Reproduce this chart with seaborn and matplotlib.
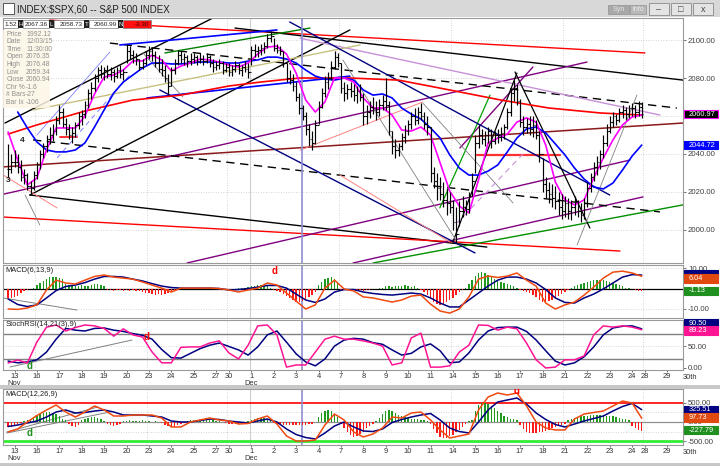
import numpy as np
import matplotlib.pyplot as plt
from matplotlib.patches import Rectangle
import seaborn as sns

sns.set_theme(style="white")
plt.rcParams['font.family'] = ['Liberation Sans', 'DejaVu Sans']

W, H = 720, 466

# ---------------- data ----------------
# hourly bars, index 1..199 : last two bars of Nov 12, then Nov 13 .. Dec 24 (half day)
highs = [2045, 2040,
         2042, 2040, 2037, 2032, 2030, 2026, 2031,   # Nov 13
         2036, 2042, 2046, 2050, 2054, 2056, 2060,   # 16
         2066, 2064, 2059, 2056, 2054, 2057, 2062,   # 17
         2063, 2068, 2074, 2078, 2082, 2086, 2087,   # 18
         2086, 2087, 2086, 2085, 2086, 2087, 2085,   # 19
         2098, 2097, 2095, 2093, 2090, 2090, 2094,   # 20
         2097, 2096, 2094, 2092, 2090, 2087, 2082,   # 23
         2086, 2090, 2095, 2094, 2093, 2092, 2093,   # 24
         2093, 2092, 2093, 2092, 2093, 2092, 2090,   # 25
         2089, 2090, 2089, 2088,                     # 27
         2088, 2087, 2089, 2088, 2087, 2089, 2088,   # 30
         2097, 2098, 2097, 2098, 2099, 2103, 2105,   # Dec 1
         2101, 2098, 2097, 2094, 2088, 2084, 2082,   # 2
         2078, 2072, 2066, 2062, 2056, 2052, 2058,   # 3
         2068, 2075, 2081, 2083, 2089, 2094, 2093,   # 4
         2088, 2078, 2077, 2078, 2077, 2076, 2077,   # 7
         2072, 2066, 2068, 2070, 2068, 2069, 2071,   # 8
         2080, 2068, 2052, 2048, 2046, 2051, 2055,   # 9
         2058, 2062, 2064, 2065, 2067, 2062, 2060,   # 10
         2054, 2033, 2030, 2028, 2025, 2022, 2020,   # 11
         2016, 2012, 2015, 2018, 2016, 2020, 2030,   # 14
         2050, 2055, 2053, 2052, 2054, 2053, 2052,   # 15
         2053, 2054, 2056, 2064, 2074, 2079, 2077,   # 16
         2069, 2060, 2059, 2060, 2060, 2058, 2052,   # 17
         2038, 2028, 2025, 2024, 2023, 2020, 2019,   # 18
         2018, 2017, 2016, 2018, 2016, 2014, 2017,   # 21
         2025, 2030, 2036, 2039, 2042, 2050, 2056,   # 22
         2060, 2062, 2061, 2064, 2066, 2065, 2066,   # 23
         2067, 2066, 2068, 2067.36]                  # 24
lows = [2028, 2030,
        2033, 2030, 2026, 2024, 2021, 2019, 2021,
        2027, 2032, 2038, 2041, 2045, 2047, 2050,
        2056, 2054, 2050, 2048, 2046, 2049, 2053,
        2055, 2059, 2064, 2069, 2073, 2078, 2080,
        2079, 2080, 2079, 2078, 2080, 2080, 2079,
        2088, 2090, 2088, 2087, 2084, 2085, 2087,
        2090, 2089, 2086, 2083, 2081, 2078, 2071,
        2076, 2082, 2087, 2088, 2087, 2086, 2087,
        2088, 2087, 2088, 2087, 2088, 2086, 2083,
        2084, 2085, 2082, 2083,
        2081, 2081, 2083, 2082, 2081, 2083, 2080,
        2087, 2091, 2091, 2092, 2093, 2096, 2099,
        2094, 2093, 2092, 2086, 2078, 2077, 2073,
        2068, 2061, 2058, 2050, 2044, 2042, 2045,
        2056, 2064, 2070, 2074, 2079, 2085, 2086,
        2072, 2068, 2069, 2070, 2068, 2067, 2068,
        2055, 2056, 2059, 2061, 2058, 2060, 2063,
        2063, 2050, 2040, 2038, 2039, 2042, 2046,
        2050, 2053, 2055, 2056, 2058, 2053, 2050,
        2025, 2022, 2016, 2016, 2012, 2008, 2009,
        2000, 1993, 2002, 2007, 2008, 2009, 2018,
        2030, 2043, 2045, 2044, 2046, 2043, 2045,
        2046, 2047, 2048, 2053, 2060, 2068, 2066,
        2054, 2050, 2051, 2050, 2049, 2048, 2036,
        2020, 2017, 2014, 2012, 2011, 2008, 2006,
        2007, 2006, 2005, 2008, 2007, 2004, 2006,
        2012, 2020, 2026, 2029, 2032, 2038, 2044,
        2051, 2054, 2055, 2057, 2059, 2058, 2059,
        2060, 2059, 2060, 2058.73]
closes = [2032, 2036,
          2036, 2033, 2028, 2029, 2023, 2022, 2029,
          2034, 2040, 2044, 2048, 2050, 2052, 2058,
          2062, 2056, 2053, 2050, 2051, 2055, 2060,
          2061, 2066, 2072, 2075, 2080, 2084, 2082,
          2084, 2082, 2083, 2081, 2084, 2082, 2083,
          2094, 2092, 2091, 2090, 2086, 2088, 2092,
          2094, 2092, 2088, 2085, 2084, 2080, 2076,
          2084, 2088, 2092, 2090, 2091, 2089, 2090,
          2091, 2089, 2090, 2089, 2091, 2088, 2086,
          2087, 2088, 2084, 2086,
          2083, 2085, 2087, 2084, 2086, 2085, 2083,
          2095, 2094, 2095, 2096, 2097, 2101, 2102,
          2096, 2095, 2094, 2088, 2080, 2079, 2076,
          2070, 2064, 2060, 2053, 2048, 2046, 2055,
          2065, 2072, 2078, 2080, 2086, 2091, 2088,
          2075, 2072, 2074, 2073, 2071, 2073, 2070,
          2060, 2062, 2065, 2064, 2062, 2066, 2068,
          2066, 2052, 2044, 2042, 2044, 2049, 2052,
          2056, 2060, 2058, 2062, 2060, 2056, 2054,
          2030, 2026, 2022, 2019, 2016, 2014, 2012,
          2004, 1998, 2010, 2012, 2011, 2018, 2026,
          2046, 2050, 2048, 2050, 2052, 2047, 2050,
          2049, 2051, 2054, 2062, 2072, 2075, 2068,
          2057, 2054, 2056, 2053, 2055, 2050, 2040,
          2024, 2021, 2019, 2017, 2015, 2012, 2010,
          2014, 2010, 2012, 2015, 2010, 2008, 2014,
          2022, 2028, 2033, 2036, 2040, 2046, 2052,
          2057, 2060, 2058, 2062, 2063, 2061, 2064,
          2064, 2062, 2065, 2060.99]

# indicator lines read every third bar (bar 1, 4, 7, ... 199)
ma_fast = [2051.6, 2036.8, 2023.7, 2027.4, 2042.1, 2053.7, 2053.7, 2053.7, 2060.0, 2071.6,
           2080.5, 2081.6, 2084.2, 2089.0, 2089.0, 2092.0, 2089.5, 2083.7, 2086.3, 2087.9,
           2090.0, 2089.5, 2088.4, 2086.8, 2085.8, 2087.9, 2092.6, 2096.3, 2096.8, 2092.6,
           2082.6, 2068.4, 2062.1, 2067.4, 2080.0, 2080.0, 2077.9, 2069.5, 2064.2, 2064.2,
           2060.5, 2052.6, 2052.1, 2054.2, 2050.0, 2035.3, 2020.5, 2012.6, 2009.0, 2026.3,
           2045.8, 2048.4, 2050.5, 2056.8, 2059.0, 2056.8, 2044.7, 2025.3, 2015.8, 2013.2,
           2015.8, 2027.4, 2037.9, 2047.4, 2055.3, 2059.5, 2060.5]
ma_slow = [np.nan, 2062.1, 2053.7, 2046.3, 2042.1, 2041.1, 2041.1, 2042.1, 2045.8, 2054.2,
           2063.2, 2072.1, 2077.9, 2081.6, 2085.3, 2087.9, 2087.9, 2087.4, 2087.4, 2087.9,
           2088.4, 2088.4, 2088.4, 2087.9, 2087.9, 2088.9, 2089.5, 2091.0, 2091.0, 2090.0,
           2087.9, 2084.2, 2081.0, 2079.5, 2078.9, 2080.0, 2078.9, 2073.7, 2071.0, 2071.6,
           2069.5, 2064.2, 2061.0, 2058.4, 2053.7, 2048.4, 2039.5, 2032.6, 2028.9, 2028.9,
           2031.0, 2034.2, 2041.1, 2048.4, 2053.2, 2054.2, 2051.1, 2045.3, 2039.5, 2032.6,
           2026.8, 2022.6, 2021.6, 2024.7, 2031.6, 2038.9, 2044.7]
macd6 = [-10.0, -10.2, -9.5, -8.0, -0.7, 4.1, 2.7, 2.2, 4.1, 5.9,
         6.6, 5.6, 5.1, 4.6, 3.2, 1.7, 0.2, -1.7, 0.2, 0.2,
         0.2, 0.2, 0.0, -0.7, -1.7, -0.7, 0.2, 2.7, 1.7, -2.2,
         -6.1, -10.0, -8.0, 0.2, 4.1, -0.2, -1.2, -4.1, -4.6, -5.6,
         -6.6, -5.6, -3.7, -3.2, -7.6, -11.0, -12.0, -10.0, -4.1, 4.6,
         6.1, 5.4, 6.1, 7.6, 4.1, 1.2, -7.1, -10.0, -8.0, -6.6,
         -3.2, 0.7, 5.1, 8.0, 8.5, 7.6, 6.0]
signal6 = [-5.1, -7.8, -8.8, -8.0, -4.6, -1.0, 1.0, 1.7, 2.9, 4.6,
           5.9, 5.9, 5.6, 4.6, 3.7, 2.4, 1.2, 0.5, 0.2, 0.2,
           0.2, 0.2, 0.0, -0.7, -0.5, 0.0, 0.7, 1.5, 1.5, 0.2,
           -2.7, -5.6, -6.8, -5.1, -1.7, -0.5, -0.5, -1.7, -2.4, -2.9,
           -3.2, -2.7, -2.2, -2.7, -4.6, -7.1, -9.0, -9.0, -5.6, -2.2,
           1.2, 4.1, 5.6, 5.6, 4.6, 2.7, -0.5, -4.6, -6.8, -7.1,
           -4.6, -2.7, -0.2, 2.7, 5.6, 6.8, 6.6]
stoch_k = [11.6, 18.6, 11.6, 60.5, 95, 100, 86, 94, 100, 98,
           92, 74, 91, 77, 72, 37, 12, 12, 48, 49,
           49, 58, 63, 35, 21, 53, 98, 100, 77, 2,
           7, 7, 37, 67, 74, 67, 67, 63, 58, 51,
           7, 12, 70, 81, 2, 2, 5, 37, 53, 100,
           99, 88, 95, 91, 58, 19, 0, 2, 19, 19,
           28, 77, 98, 95, 98, 95, 89]
stoch_d = [16, 12, 14, 19, 37, 67, 92, 88, 86, 92,
           93, 88, 85, 80, 76, 67, 43, 24, 23, 34,
           45, 53, 58, 50, 42, 30, 49, 77, 86, 60,
           33, 14, 5, 21, 51, 65, 69, 67, 59, 55,
           42, 30, 34, 49, 56, 40, 12, 14, 35, 65,
           86, 94, 95, 95, 85, 65, 40, 16, 7, 12,
           26, 49, 77, 93, 97, 98, 91]
macd12 = [-263, -184, 0, 171, 316, 447, 263, 131, 263, 421,
          316, 158, 158, 184, 184, 184, 105, -131, -131, 0,
          53, 105, 53, 26, -53, -39, 79, 158, -53, -368,
          -500, -500, -473, -79, 210, 53, -263, -394, -316, -158,
          131, 105, 237, 263, 53, -210, -421, -368, -316, 316,
          658, 763, 710, 763, 421, 0, -158, -210, -210, 79,
          210, 250, 289, 421, 552, 500, 98]
signal12 = [-118, -79, -26, 26, 131, 263, 316, 237, 250, 289,
            316, 263, 184, 184, 184, 158, 131, 26, 0, 0,
            39, 79, 66, 26, 0, -26, 26, 79, 0, -184,
            -329, -408, -447, -289, -105, 0, -131, -237, -250, -184,
            -13, 66, 131, 184, 224, 53, -158, -250, -289, 0,
            316, 526, 579, 631, 473, 237, 66, -66, -131, -53,
            26, 92, 158, 289, 408, 487, 325]

# long red average, read at a few bars
ma_long_bar = [1, 10, 25, 40, 55, 70, 80, 92, 108, 123, 139, 155, 170, 186, 199]
ma_long = [2050.5, 2055.3, 2062.6, 2068.4, 2071.0, 2075.8, 2077.9, 2080.0, 2080.0,
           2078.9, 2073.7, 2068.4, 2064.2, 2061.6, 2060.5]

# histograms, one value per bar
hist6 = [-4.5, -4.5, -4, -3.5, -2, -1, -0.5, 0,
         0.5, 1.5, 2.5, 3.5, 4.5, 5.5, 5.5, 5.5, 5, 4.5,
         2, 1.5, 1.5, 1, 1, 1.5, 1, 1, 1.5, 2, 2, 1.5, 1,
         -0.5, -0.5, -1, -0.5, -0.5, -1, -0.5, -1, -0.5, -1, -1,
         -1.5, -2, -2, -2.5, -3, -2.5, -3, -2.5, -2, -1.5, -1,
         0.3, 0.3, 0, -0.3, 0.3, 0.3, 0, 0.3, -0.3, 0, 0.3, 0, -0.3, -0.5, -0.5, -0.3, 0, -0.3, -0.5, 0.3, 0.5, 0.5,
         0.8, 1, 1.2, 1.5, 1.5, 1.2, 1, 0.5,
         -0.5, -1, -1.5, -2.5, -3.5, -4.5, -5.5, -6.5, -6.5, -6, -5, -4, -3, -1.5,
         1.5, 3, 4.5, 5, 5.5, 4.5, 3,
         -0.5, -0.5, -0.3, -0.5, -0.3, -0.5, -0.5, -1, -0.8, -0.5, -0.3, 0, 0.3, 0.5,
         1, 1, 0.8, 1, 1.2, 1, 1.5, 1, 0.8, 1, 0.5,
         -0.5, -1.5, -3, -5, -6.5, -7.5, -8, -7.5, -6.5, -5.5, -4.5, -3, -1.5, -0.5, 0.5,
         2, 4, 6, 7.5, 8, 7.5, 6.5, 5.5, 4.5, 3.5, 3, 2.5, 2, 1.5, 1, 0.5,
         -0.5, -1, -1.5, -2, -3, -4, -5.5, -6.5, -6.5, -6, -5.5, -4.5, -3.5, -2.5, -1.5, -0.5,
         0.5, 1, 1.5, 2, 2.5, 3, 3.5, 4, 4, 4, 4, 3.5, 3, 2.5, 2, 1.5, 1, 0.5,
         0.3, -0.3, -0.8, -1, -1.13]
hist12 = [-130, -120, -80, -40, -30, 20,
          50, 90, 130, 170, 200, 230, 260, 260, 240, 200, 160,
          80, 40, -60, -110, -130, -90,
          40, 80, 110, 130, 130, 110, 80, 30, -50,
          -90, -100, -80, -40,
          20, 30, 40, 30, 20, 30, 40, 30, 20, 10, 20, 10,
          -30, -80, -110, -130, -120, -90, -50, -20,
          30, 40, 50, 50, 40, 50, 60, 50, 40, 30, 20, 10, -20, -40, -50, -60, -40, -20, 10, 30,
          60, 80, 100, 110, 100, 80, 50,
          -20, -40, -60, -70, -80, -80, -80, -80, -80, -70, -70, -60, -40, 10,
          120, 230, 300, 320, 300, 220, 120,
          -60, -160, -260, -340, -400, -380, -320, -250, -170, -100, -40, 20,
          100, 200, 290, 320, 290, 240, 190, 150, 120, 100, 90, 80, 70,
          60, 50, 20, -60,
          -180, -300, -390, -420, -410, -380, -330, -270, -200, -120, -50,
          20, 60,
          300, 450, 500, 500, 480, 430, 370, 300, 230, 170, 120, 90, 70, 60,
          -80, -180, -260, -290, -290, -280, -270, -250, -230, -200, -170, -140, -100, -70, -40,
          40, 80, 110, 130, 150, 160, 170, 175, 180, 180, 180, 175, 170, 160, 150, 130, 110, 90, 70, 40,
          -100, -160, -200, -227.79]

# trading days: label and first bar
day_labels = ['13', '16', '17', '18', '19', '20', '23', '24', '25', '27', '30', '1', '2', '3',
              '4', '7', '8', '9', '10', '11', '14', '15', '16', '17', '18', '21', '22', '23',
              '24', '28', '29']
day_first_bar = [3, 10, 17, 24, 31, 38, 45, 52, 59, 66, 70, 77, 84, 91, 98, 105, 112, 119,
                 126, 133, 140, 147, 154, 161, 168, 175, 182, 189, 196, 200, 207]
mondays = [10, 45, 70, 105, 140, 175, 200]

# drawn trend lines (bar, price) -> (bar, price)
trend_lines = [(14.0, 2110.5, 200.0, 2093.2), (0.0, 2056.3, 65.0, 2111.6),
               (7.8, 2018.4, 107.8, 2105.3), (71.9, 2106.3, 211.9, 2078.9),
               (7.8, 2018.4, 150.6, 1991.0), (-0.6, 2006.8, 192.2, 1988.9),
               (-0.6, 2033.2, 211.9, 2056.3), (-1.6, 2018.4, 181.9, 2088.4),
               (56.9, 1982.6, 195.3, 2036.8), (108.8, 1982.6, 199.4, 2017.4),
               (142.2, 2043.2, 165.0, 2085.8), (8.8, 2047.4, 204.7, 2009.5),
               (32.8, 2098.4, 210.0, 2064.2), (92.2, 2101.0, 204.7, 2060.5),
               (50.0, 2093.2, 95.3, 2106.3), (115.0, 1982.6, 211.9, 2013.2),
               (135.9, 2011.6, 151.6, 2071.0), (8.8, 2063.2, 111.0, 2097.4),
               (147.5, 2039.5, 173.4, 2039.5), (17.2, 2048.9, 22.5, 2048.9),
               (48.4, 2073.7, 146.9, 1987.9), (89.0, 2109.5, 189.0, 2018.4),
               (35.9, 2097.4, 85.0, 2105.3), (44.4, 2069.5, 107.8, 2081.0),
               (140.0, 1993.7, 160.0, 2082.6), (159.4, 2083.2, 182.8, 2001.0),
               (105.6, 2089.5, 141.3, 1993.7), (130.6, 2066.8, 158.8, 2014.2),
               (43.1, 2093.2, 55.6, 2070.0), (178.8, 1992.1, 197.5, 2071.0),
               (6.3, 2018.4, 10.9, 2002.6), (141.3, 2003.7, 163.1, 2042.1),
               (10.0, 2050.0, 32.8, 2093.7), (16.3, 2037.9, 39.0, 2081.6),
               (104.7, 2028.9, 139.0, 1993.7), (92.2, 2042.0, 130.6, 2067.4),
               (-0.6, 2029.0, 16.3, 2011.6)]
dash = (0, (6, 4))
trend_styles = [('#ff0000', 1.0, '-'), ('#000000', 1.0, '-'), ('#000000', 1.0, '-'),
                ('#000000', 1.0, '-'), ('#000000', 1.0, '-'), ('#ff0000', 1.0, '-'),
                ('#8b1a1a', 1.1, '-'), ('#800080', 1.0, '-'), ('#800080', 1.0, '-'),
                ('#800080', 1.0, '-'), ('#800080', 1.0, '-'), ('#000000', 1.0, dash),
                ('#000000', 1.0, dash), ('#c890d8', 1.0, '-'), ('#008000', 1.0, '-'),
                ('#009000', 1.0, '-'), ('#00a000', 0.9, '-'), ('#c8c080', 1.0, '-'),
                ('#ff3030', 1.6, '-'), ('#ff3030', 1.4, '-'), ('#000080', 1.0, '-'),
                ('#000080', 1.0, '-'), ('#0000ff', 1.2, '-'), ('#0000ff', 1.2, '-'),
                ('#000000', 0.9, '-'), ('#000000', 0.9, '-'), ('#808080', 0.6, '-'),
                ('#808080', 0.6, '-'), ('#808080', 0.6, '-'), ('#808080', 0.6, '-'),
                ('#808080', 0.6, '-'), ('#c890d8', 0.8, (0, (5, 4))), ('#8080ff', 0.6, '-'),
                ('#8080ff', 0.7, (0, (5, 4))), ('#ff8080', 0.7, '-'), ('#ff8080', 0.7, '-'),
                ('#ff8080', 0.7, '-')]

# ---------------- figure ----------------
fig = plt.figure(figsize=(W / 100, H / 100), dpi=100)
fig.patch.set_facecolor('white')


def panel(x0, y0, x1, y1):
    return fig.add_axes([x0 / W, 1 - y1 / H, (x1 - x0) / W, (y1 - y0) / H])


def fig_rect(x, y, w, h, **kw):
    fig.add_artist(Rectangle((x / W, 1 - (y + h) / H), w / W, h / H,
                             transform=fig.transFigure, **kw))


def fig_text(x, y, s, **kw):
    fig.text(x / W, 1 - y / H, s, **kw)


def line(ax, x, y, color, lw=1.1, z=3):
    sns.lineplot(x=np.asarray(x, float), y=np.asarray(y, float), ax=ax, color=color,
                 linewidth=lw, estimator=None, sort=False, legend=False, zorder=z)


def hist(ax, v, pos='#1f9a1f', neg='#ff1a1a'):
    v = np.asarray(v, float)
    x = np.arange(1, len(v) + 1)
    ax.bar(x, v, width=0.45, color=np.where(v >= 0, pos, neg), linewidth=0, zorder=2)


def value_box(ax, y, text, face, fg='white', edge=None):
    # coloured last-value tag in the right margin, 34 px wide
    yt = ax.get_yaxis_transform()
    lo, hi = ax.get_ylim()
    ax_h = ax.get_position().height * H
    half = 4.2 / ax_h * (hi - lo)
    ax.add_patch(Rectangle((1.002, y - half), 34 / (ax.get_position().width * W), 2 * half,
                           transform=yt, fc=face, ec=edge or face, lw=0.8, clip_on=False,
                           zorder=20))
    if text:
        ax.text(1.008, y, text, transform=yt, ha='left', va='center', fontsize=5.3, color=fg,
                clip_on=False, zorder=21)


def style(ax, ylim, yticks, xlabels=False):
    ax.set_xlim(-0.6, 211.9)
    ax.set_ylim(*ylim)
    ax.set_facecolor('white')
    for s in ax.spines.values():
        s.set_color('#9a9a9a')
        s.set_linewidth(0.8)
    ax.yaxis.tick_right()
    ax.set_yticks(yticks)
    ax.set_yticklabels([f'{v:.2f}' for v in yticks])
    ax.tick_params(axis='y', right=True, left=False, length=2, width=0.5, labelsize=5.6,
                   pad=1.5, colors='#404040')
    ax.set_xlabel('')
    ax.set_ylabel('')
    for b in mondays:
        ax.axvline(b - 0.5, color='#c8c8c8', lw=0.6, ls=(0, (1, 2)), zorder=0)
    ax.axvline(76.5, color='#cfcfcf', lw=0.8, zorder=0)
    ax.axvline(92.8, color='#8f8fd0', lw=1.2, zorder=1)
    if xlabels:
        labels = [l + '\nNov' if i == 0 else (l + '\nDec' if l == '1' else l)
                  for i, l in enumerate(day_labels)]
        ax.set_xticks(day_first_bar)
        ax.set_xticklabels(labels, linespacing=0.9)
        ax.tick_params(axis='x', bottom=True, length=1.5, width=0.5, labelsize=5.4, pad=0.8,
                       colors='#303030')
        ax.annotate('30th', xy=(214, 0), xycoords=ax.get_xaxis_transform(), xytext=(0, -2.6),
                    textcoords='offset points', ha='center', va='top', fontsize=5.4,
                    color='#303030', annotation_clip=False)
    else:
        ax.set_xticks([])


bars = np.arange(1, len(closes) + 1)
samp = np.arange(1, 200, 3)

# ---- price panel ----
ax_p = panel(3, 18, 683, 263)
for p in range(2000, 2101, 20):
    ax_p.axhline(p, color='#c8c8c8', lw=0.6, ls=(0, (1, 2)), zorder=0)
for (b0, p0, b1, p1), (c, lw, ls) in zip(trend_lines, trend_styles):
    ax_p.plot([b0, b1], [p0, p1], color=c, lw=lw, ls=ls, zorder=1)
line(ax_p, ma_long_bar, ma_long, '#ff0000', 1.2, 2)
line(ax_p, samp, ma_slow, '#0000ff', 1.2, 2)
line(ax_p, samp, ma_fast, '#ff00ff', 1.2, 2)
opens = [closes[0]] + closes[:-1]
ax_p.vlines(bars, lows, highs, color='black', lw=0.85, zorder=4)
ax_p.hlines(closes, bars, bars + 0.45, color='black', lw=0.8, zorder=4)
ax_p.hlines(opens, bars - 0.45, bars, color='black', lw=0.8, zorder=4)
ax_p.text(4.7, 2046.3, '4', fontsize=6, color='#202020', fontweight='bold', zorder=5)
ax_p.text(0.2, 2025.3, '3', fontsize=6, color='#202020', fontweight='bold', zorder=5)
style(ax_p, (1982.6, 2111.6), [2000, 2020, 2040, 2080, 2100])
value_box(ax_p, 2044.7, '2044.72', '#0000ff')
value_box(ax_p, 2061.0, '2060.97', '#000000', edge='#ff00ff')

# ---- MACD(6,13,9) ----
ax_m = panel(3, 265, 683, 318)
for v in (10, -10):
    ax_m.axhline(v, color='#c8c8c8', lw=0.6, ls=(0, (1, 2)), zorder=0)
ax_m.axhline(0, color='black', lw=0.9, zorder=1)
hist(ax_m, hist6)
ax_m.plot([-0.6, 22.5], [-4.6, -10.5], color='#808080', lw=0.7, zorder=1)
line(ax_m, samp, signal6, '#000080', 1.1)
line(ax_m, samp, macd6, '#f04a10', 1.1)
ax_m.text(84.4, 7.0, 'd', color='#ff0000', fontsize=7, fontweight='bold', ha='center', zorder=5)
ax_m.text(0.004, 0.97, 'MACD(6,13,9)', transform=ax_m.transAxes, va='top', fontsize=5.4,
          color='#202020')
style(ax_m, (-14.4, 11.5), [10, -10])
value_box(ax_m, 7.0, '', '#000080')
value_box(ax_m, 5.0, '6.04', '#e04a10')
value_box(ax_m, -1.2, '-1.13', '#1f8f1f')

# ---- StochRSI ----
ax_s = panel(3, 320, 683, 370)
ax_s.axhline(50, color='#c8c8c8', lw=0.6, ls=(0, (1, 2)), zorder=0)
for v in (80, 20):
    ax_s.axhline(v, color='#808080', lw=1.0, zorder=1)
ax_s.plot([1.6, 39.7], [2.3, 65], color='#808080', lw=0.7, zorder=1)
line(ax_s, samp, stoch_d, '#000080', 1.1)
line(ax_s, samp, stoch_k, '#ff1493', 1.1)
ax_s.text(44.4, 65, 'd', color='#ff0000', fontsize=7, fontweight='bold', ha='center', zorder=5)
ax_s.text(7.8, -3, 'd', color='#1f8f1f', fontsize=7, fontweight='bold', ha='center', zorder=5)
ax_s.text(0.004, 0.97, 'StochRSI(14,21(3),9)', transform=ax_s.transAxes, va='top', fontsize=5.4,
          color='#202020')
style(ax_s, (-4.7, 111.6), [50, 0], xlabels=True)
value_box(ax_s, 104.5, '90.50', '#000080')
value_box(ax_s, 87.0, '89.23', '#ff1493')

# ---- MACD(12,26,9) lower chart ----
ax_b = panel(3, 389, 683, 445)
for v in (250, -250):
    ax_b.axhline(v, color='#c8c8c8', lw=0.6, ls=(0, (1, 2)), zorder=0)
ax_b.axhline(0, color='#909090', lw=0.9, zorder=1)
ax_b.axhline(500, color='#ff0000', lw=1.2, zorder=1)
ax_b.axhline(-500, color='#33ee33', lw=2.0, zorder=1)
hist(ax_b, hist12)
ax_b.plot([0.6, 32.8], [-290, 263], color='#808080', lw=0.7, zorder=1)
ax_b.plot([0.6, 29.0], [-263, 395], color='#808080', lw=0.7, zorder=1)
line(ax_b, samp, signal12, '#000080', 1.1)
line(ax_b, samp, macd12, '#f04a10', 1.1)
ax_b.text(160, 740, 'd', color='#ff0000', fontsize=7, fontweight='bold', ha='center', zorder=5)
ax_b.text(7.8, -380, 'd', color='#1f8f1f', fontsize=7, fontweight='bold', ha='center', zorder=5)
ax_b.text(0.004, 0.97, 'MACD(12,26,9)', transform=ax_b.transAxes, va='top', fontsize=5.4,
          color='#202020')
style(ax_b, (-605, 868), [500, 0, -500], xlabels=True)
ax_b.get_yticklabels()[1].set_y(-70)
value_box(ax_b, 320, '325.51', '#000080')
value_box(ax_b, 118, '97.73', '#e04a10')
value_box(ax_b, -215, '-227.79', '#1f8f1f')

# ---------------- window chrome ----------------
fig_rect(0, 0, W, 17, fc='#d8d8d8', ec='none')
fig_rect(3, 3, 11, 11, fc='white', ec='#404040', lw=0.6)
fig_text(17, 9, 'INDEX:$SPX,60 -- S&P 500 INDEX', fontsize=7, va='center', color='#202020')
fig_rect(608, 5, 21, 9, fc='#a8a8a8', ec='#909090', lw=0.5)
fig_text(618.5, 9.5, 'Syn', fontsize=5, va='center', ha='center', color='#e8e8e8')
fig_rect(630, 5, 16, 9, fc='#b8b8b8', ec='#909090', lw=0.5)
fig_text(638, 9.5, 'Info', fontsize=5, va='center', ha='center', color='#e8e8e8')
for x0, sym in ((649, '\u2013'), (671, '\u25a1'), (693, 'x')):
    fig_rect(x0, 3, 20, 12, fc='#e4e4e4', ec='#8a8a8a', lw=0.6)
    fig_text(x0 + 10, 9.3, sym, fontsize=6.5, va='center', ha='center', color='#404040')
fig_rect(0, 385, W, 4, fc='#c8c8c8', ec='none')
fig_rect(0, 463, W, 3, fc='#c8c8c8', ec='none')

# quote strip
fig_rect(3, 20, 15, 8, fc='white', ec='#808080', lw=0.5)
fig_text(4.5, 24, '1.52', fontsize=4.6, va='center', color='#202020')
for x0, tag, wv, val in ((18, 'H', 26, '2067.36'), (49, 'L', 30, '2058.73'),
                         (84, 'T', 29, '2060.99')):
    fig_rect(x0, 20, 5, 8, fc='#202020', ec='none')
    fig_text(x0 + 2.5, 24, tag, fontsize=4.6, va='center', ha='center', color='white')
    fig_rect(x0 + 5, 20, wv, 8, fc='white', ec='#808080', lw=0.5)
    fig_text(x0 + 4 + wv, 24, val, fontsize=4.6, va='center', ha='right', color='#202020')
fig_rect(118, 20, 5, 8, fc='#202020', ec='none')
fig_text(120.5, 24, 'N', fontsize=4.6, va='center', ha='center', color='white')
fig_rect(123, 20, 28, 8, fc='#ff1010', ec='#808080', lw=0.5)
fig_text(149, 24, '-3.30', fontsize=4.6, va='center', ha='right', color='#400000')

# data window
fig_rect(3, 30, 47, 78, fc='#fdf6e6', ec='none', alpha=0.85)
rows = [('Price', '1992.12'), ('Date', '12/03/15'), ('Time', '11:30:00'), ('Open', '2076.35'),
        ('High', '2076.48'), ('Low', '2059.34'), ('Close', '2060.94'), ('Chr %', '-1.6'),
        ('# Bars', '-27'), ('Bar Ix', '-106')]
for i, (k, v) in enumerate(rows):
    yy = 34 + i * 7.6
    fig_text(6.5, yy, k, fontsize=4.9, va='center', color='#909090')
    fig_text(26, yy, v, fontsize=4.9, va='center', color='#909090')

fig.savefig('out.png', dpi=100)
